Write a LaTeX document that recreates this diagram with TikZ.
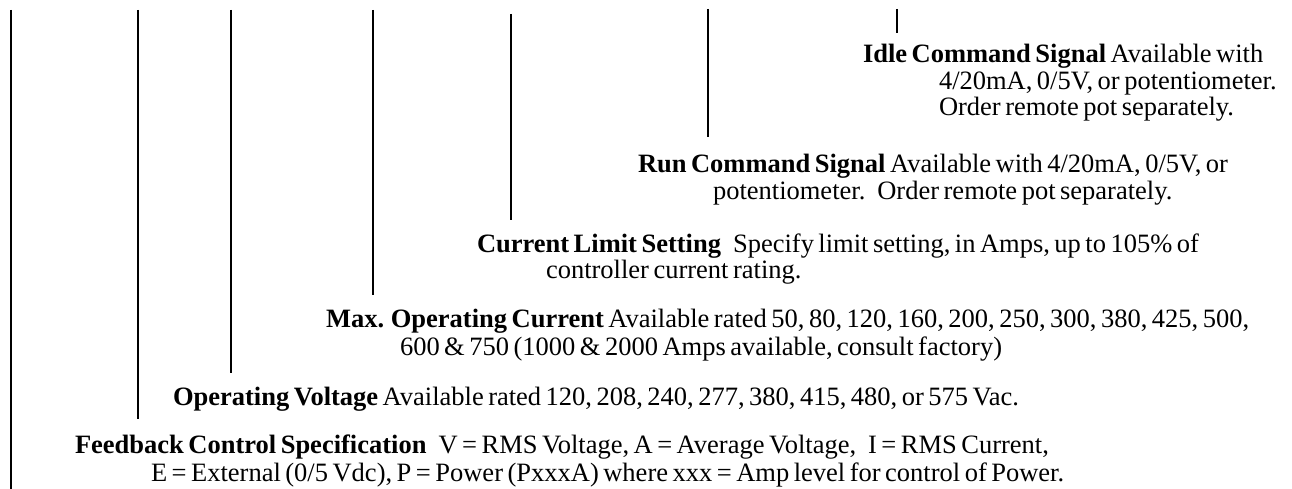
\documentclass[tikz,border=0pt]{standalone}
\usepackage{fontspec}
\setmainfont{Liberation Serif}
\newcommand{\lblfont}{\fontsize{26.5}{27}\selectfont\spaceskip 4.5pt\relax}
\newcommand{\wgap}{\hspace{12pt}}
\tikzset{
  lbl/.style={inner sep=0pt, outer sep=0pt, anchor=base west, font=\lblfont},
  leader/.style={line width=1.8pt, line cap=butt}
}
\begin{document}
\begin{tikzpicture}[x=1pt,y=-1pt]
\useasboundingbox (0,0) rectangle (1292,489);
% labels
\node[lbl] (idle1) at (863,63) {\textbf{Idle Command Signal} Available with};
\node[lbl] (idle2) at (939,90) {4/20mA, 0/5V, or potentiometer.};
\node[lbl] (idle3) at (939,116) {Order remote pot separately.};
\node[lbl] (run1) at (638,173) {\textbf{Run Command Signal} Available with 4/20mA, 0/5V, or};
\node[lbl] (run2) at (713,200) {potentiometer.\wgap Order remote pot separately.};
\node[lbl] (cl1) at (477,252) {\textbf{Current Limit Setting}\wgap Specify limit setting, in Amps, up to 105\% of};
\node[lbl] (cl2) at (546,278) {controller current rating.};
\node[lbl] (max1) at (326,327) {\textbf{Max. Operating Current} Available rated 50, 80, 120, 160, 200, 250, 300, 380, 425, 500,};
\node[lbl] (max2) at (400,355) {600 \& 750 (1000 \& 2000 Amps available, consult factory)};
\node[lbl] (ov1) at (173,405) {\textbf{Operating Voltage} Available rated 120, 208, 240, 277, 380, 415, 480, or 575 Vac.};
\node[lbl] (fb1) at (75,453) {\textbf{Feedback Control Specification}\wgap V = RMS Voltage, A = Average Voltage,\wgap I = RMS Current,};
\node[lbl] (fb2) at (151,481) {E = External (0/5 Vdc), P = Power (PxxxA) where xxx = Amp level for control of Power.};
% leader lines
\coordinate (t1) at (11,10);  \coordinate (b1) at (11,489);
\coordinate (t2) at (138,10); \coordinate (b2) at (138,419);
\coordinate (t3) at (231,10); \coordinate (b3) at (231,373);
\coordinate (t4) at (373,10); \coordinate (b4) at (373,295);
\coordinate (t5) at (511,14); \coordinate (b5) at (511,220);
\coordinate (t6) at (708,9);  \coordinate (b6) at (708,137);
\coordinate (t7) at (897,9);  \coordinate (b7) at (897,33);
\foreach \i in {1,...,7} \draw[leader] (t\i) -- (b\i);
\end{tikzpicture}
\end{document}
